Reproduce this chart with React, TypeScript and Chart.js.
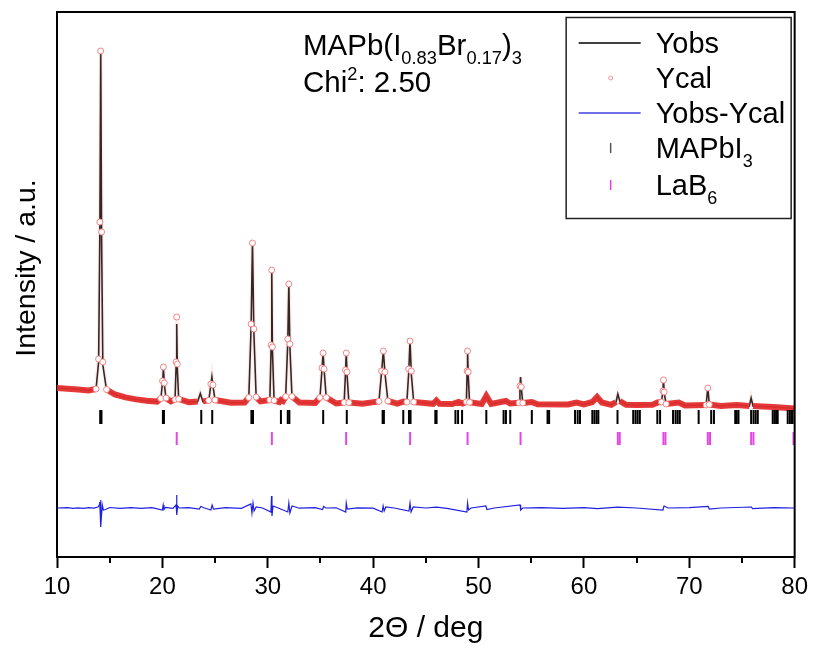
import { useEffect, useRef } from "react";
import { Chart, registerables } from "chart.js";

Chart.register(...registerables);

// ---------- data (2θ in degrees, intensity in arbitrary counts) ----------
const twoTheta = [
  10.0, 11.0, 12.0, 13.0, 13.7, 13.95, 14.07, 14.15, 14.23, 14.35, 14.7, 15.5, 16.5, 17.5, 18.5, 19.5,
  19.85, 20.02, 20.1, 20.18, 20.35, 20.8, 21.2, 21.3, 21.36, 21.42, 21.55, 22.5, 23.35, 23.6, 23.85,
  24.4, 24.6, 24.7, 24.8, 25.0, 26.5, 27.8, 28.2, 28.42, 28.55, 28.68, 28.9, 29.3, 30.2, 30.32, 30.38,
  30.44, 30.6, 31.1, 31.25, 31.45, 31.7, 31.9, 32.0, 32.1, 32.3, 33.0, 34.5, 34.95, 35.15, 35.25, 35.35,
  35.55, 36.5, 37.25, 37.38, 37.45, 37.52, 37.7, 39.0, 40.55, 40.8, 40.97, 41.12, 41.4, 42.3, 42.9, 43.2,
  43.38, 43.5, 43.62, 43.85, 45.7, 46.0, 46.3, 47.5, 48.1, 48.5, 48.85, 48.92, 48.96, 49.02, 49.15, 50.3,
  50.74, 51.2, 52.6, 53.0, 53.85, 53.93, 53.99, 54.06, 54.2, 55.06, 55.6, 58.5, 59.3, 60.0, 60.8, 61.25,
  61.7, 62.6, 63.05, 63.22, 63.4, 64.0, 65.0, 66.5, 67.0, 67.35, 67.5, 67.55, 67.62, 67.8, 69.0, 69.6,
  71.6, 71.76, 71.9, 73.0, 74.5, 75.7, 75.87, 76.05, 78.0, 80.0,
];

const yObs = [
  10900, 10850, 10750, 10650, 10750, 13500, 27000, 44700, 26000, 13200, 10700, 10250, 9950, 9750, 9620, 9530,
  9800, 11500, 12900, 11300, 9850, 9550, 9700, 13000, 17300, 12800, 9750, 9480, 9550, 10350, 9550,
  9650, 11200, 12000, 11100, 9700, 9420, 9450, 9900, 17000, 25500, 16500, 9950, 9550, 9700, 15000, 22800,
  14800, 9650, 9500, 9700, 9600, 10000, 15500, 21400, 15000, 10000, 9450, 9400, 9900, 12800, 14400, 12700,
  9900, 9350, 9450, 12500, 14500, 12300, 9450, 9320, 9550, 12500, 14600, 12400, 9600, 9330, 9550, 9500,
  12500, 15700, 12300, 9500, 9320, 9650, 9320, 9300, 9500, 9350, 9500, 12500, 14700, 12300, 9450, 9300,
  10100, 9300, 9600, 9350, 9400, 11000, 12000, 10900, 9380, 9500, 9270, 9250, 9450, 9250, 9500, 10000,
  9450, 9220, 9500, 10300, 9600, 9220, 9200, 9220, 9450, 9500, 10500, 11800, 10400, 9300, 9450, 9150,
  9200, 11000, 9250, 9100, 9200, 9100, 9900, 9100, 9000, 8850,
];

const yCal = [
  10900, 10830, 10760, 10660, 10800, 13800, 27500, 44600, 26500, 13500, 10750, 10250, 9960, 9760, 9620, 9540,
  9850, 11600, 13000, 11400, 9900, 9560, 9750, 13500, 18000, 13300, 9800, 9480, 9560, 10400, 9560,
  9660, 11300, 12100, 11200, 9700, 9420, 9450, 9950, 17300, 25400, 16800, 10000, 9560, 9700, 15200, 22700,
  15000, 9650, 9500, 9700, 9600, 10050, 15800, 21300, 15300, 10050, 9450, 9400, 9950, 12900, 14400, 12800,
  9950, 9350, 9450, 12700, 14400, 12500, 9450, 9320, 9560, 12600, 14600, 12500, 9600, 9330, 9550, 9500,
  12800, 15600, 12600, 9500, 9320, 9650, 9320, 9300, 9500, 9350, 9520, 12600, 14600, 12500, 9470, 9300,
  10100, 9300, 9600, 9350, 9420, 11100, 12000, 11000, 9400, 9500, 9270, 9250, 9450, 9250, 9500, 10000,
  9450, 9220, 9500, 10350, 9600, 9220, 9200, 9220, 9450, 9500, 10600, 11700, 10500, 9300, 9450, 9150,
  9200, 10900, 9250, 9100, 9200, 9100, 9900, 9100, 9000, 8850,
];

const diffTheta = [
  10.0, 11.0, 11.5, 12.0, 12.5, 13.0, 13.5, 13.9, 14.0, 14.05, 14.1, 14.13, 14.17, 14.22, 14.3, 14.4, 14.6,
  15.0, 16.0, 17.0, 18.0, 19.0, 20.0, 20.08, 20.15, 20.3, 21.0, 21.3, 21.35, 21.38, 21.45, 21.6, 22.5,
  23.5, 23.65, 24.0, 24.6, 24.72, 24.85, 26.0, 27.5, 28.4, 28.5, 28.6, 28.7, 28.9, 29.5, 30.3, 30.36,
  30.4, 30.5, 31.0, 31.9, 32.0, 32.1, 32.3, 33.0, 34.5, 35.2, 35.3, 35.5, 36.5, 37.4, 37.45, 37.55, 38.5,
  40.0, 40.85, 40.95, 41.05, 41.2, 42.0, 43.4, 43.5, 43.6, 43.8, 45.0, 46.0, 47.0, 48.9, 48.96, 49.05,
  49.3, 50.7, 50.8, 51.5, 53.95, 54.0, 54.2, 56.0, 58.0, 60.0, 61.3, 63.2, 65.0, 67.5, 67.6, 68.0, 70.0,
  71.8, 71.9, 73.0, 75.9, 76.0, 78.0, 80.0,
];

const diffValues = [
  0, 30, -40, 20, -30, 40, -20, 100, 300, 600, -500, 800, -1900, -800, 300, -200, -150,
  50, -30, 40, -30, 30, -200, 300, -150, 50, -40, 300, 1300, -700, 200, 0, 40,
  -100, 150, 0, -200, 300, -100, 30, -30, 400, -500, 500, -300, 100, 0, -400, 1200,
  -800, 200, 0, -400, 500, -500, 200, -20, 30, -150, 150, 0, 20, -400, 500, -100, 20,
  -20, -400, 200, -300, 100, 0, -300, 500, -400, 100, 0, 80, -30, -400, 500, -200,
  0, 200, -150, 0, 300, -200, 0, 30, -30, 40, -60, 80, 0, -200, 200, 0, 30,
  150, -100, 0, 100, -60, 30, 0,
];
const DIFF_OFFSET = -1100;

const mapbi3Positions = [
  14.1, 14.22, 20.05, 20.15, 23.69, 24.73, 28.45, 28.6, 31.25, 31.9, 32.05, 35.26, 37.5, 40.9, 41.02,
  42.86, 43.4, 43.55, 45.9, 46.02, 47.81, 48.06, 48.44, 50.74, 52.38, 52.6, 53.01, 55.06, 56.55, 56.7,
  59.16, 59.41, 59.63, 60.8, 61.0, 61.2, 61.37, 63.19, 64.68, 64.9, 65.1, 65.31, 66.97, 67.23, 68.46,
  68.7, 68.9, 69.1, 70.89, 72.08, 72.34, 74.36, 74.5, 74.67, 75.87, 76.1, 76.3, 76.5, 77.92, 78.1,
  78.25, 78.39, 79.34, 79.55, 79.75, 79.97,
];
const lab6Positions = [
  21.36, 30.39, 37.44, 43.51, 48.96, 53.99, 63.22, 63.4, 67.55, 67.74, 71.76, 71.97, 75.87, 76.09, 79.89,
];
const MAPBI3_ROW = 8000;
const LAB6_ROW = 5850;

const X_MIN = 10;
const X_MAX = 80;
const Y_MIN = -6000;
const Y_MAX = 48500;
const xMajorStep = 10;
const xMinorTicks = [15, 25, 35, 45, 55, 65, 75];

const seriesLabels = ["Yobs", "Ycal", "Yobs-Ycal", "MAPbI3", "LaB6"];

// ---------- helpers ----------
const FONT = '"Liberation Sans", Arial, Helvetica, sans-serif';
type Part = [string, number]; // 0 normal, 1 subscript, 2 superscript

function drawRich(ctx: CanvasRenderingContext2D, parts: Part[], x: number, base: number, size: number) {
  let cx = x;
  ctx.textAlign = "left";
  ctx.textBaseline = "alphabetic";
  for (const [t, k] of parts) {
    const s = k === 0 ? size : size * 0.62;
    const dy = k === 1 ? size * 0.3 : k === 2 ? -size * 0.4 : 0;
    ctx.font = `${s}px ${FONT}`;
    ctx.fillText(t, cx, base + dy);
    cx += ctx.measureText(t).width;
  }
}

const decorPlugin = {
  id: "decor",
  afterDraw(chart: any) {
    const { ctx, chartArea: a, scales } = chart;
    const xs = scales.x;
    ctx.save();
    ctx.fillStyle = "#000";
    ctx.strokeStyle = "#000";
    // frame top and right
    ctx.lineWidth = 2;
    ctx.beginPath();
    ctx.moveTo(a.left - 1, a.top);
    ctx.lineTo(a.right, a.top);
    ctx.lineTo(a.right, a.bottom + 1);
    ctx.stroke();
    // minor ticks
    ctx.lineWidth = 2;
    for (const v of xMinorTicks) {
      const px = Math.round(xs.getPixelForValue(v));
      ctx.beginPath();
      ctx.moveTo(px, a.bottom);
      ctx.lineTo(px, a.bottom + 6);
      ctx.stroke();
    }
    // axis titles
    ctx.font = `30px ${FONT}`;
    ctx.textAlign = "center";
    ctx.textBaseline = "middle";
    ctx.fillText("2\u0398 / deg", (a.left + a.right) / 2, a.bottom + 72);
    ctx.font = `28.5px ${FONT}`;
    ctx.save();
    ctx.translate(a.left - 30, a.top + 256);
    ctx.rotate(-Math.PI / 2);
    ctx.fillText("Intensity / a.u.", 0, 0);
    ctx.restore();

    // annotation
    drawRich(ctx, [["MAPb(I", 0], ["0.83", 1], ["Br", 0], ["0.17", 1], [")", 0], ["3", 1]], a.left + 246, a.top + 43, 29.5);
    drawRich(ctx, [["Chi", 0], ["2", 2], [": 2.50", 0]], a.left + 246, a.top + 80, 29.5);

    // legend
    const lx = a.right - 229;
    const ly = a.top + 5;
    const lw = 225;
    const lh = 201;
    ctx.lineWidth = 1.5;
    ctx.strokeStyle = "#222";
    ctx.strokeRect(lx + 0.5, ly + 0.5, lw, lh);
    const rows = [26, 61, 96, 131, 168];
    const sx = lx + 45;
    const tx = lx + 90;
    // Yobs
    ctx.strokeStyle = "#000";
    ctx.lineWidth = 1.5;
    ctx.beginPath();
    ctx.moveTo(lx + 13, ly + rows[0]);
    ctx.lineTo(lx + 75, ly + rows[0]);
    ctx.stroke();
    // Ycal
    ctx.strokeStyle = "rgba(240,140,140,0.9)";
    ctx.lineWidth = 1;
    ctx.beginPath();
    ctx.arc(sx, ly + rows[1], 2, 0, Math.PI * 2);
    ctx.stroke();
    // Yobs-Ycal
    ctx.strokeStyle = "#4040e0";
    ctx.lineWidth = 1.5;
    ctx.beginPath();
    ctx.moveTo(lx + 13, ly + rows[2]);
    ctx.lineTo(lx + 75, ly + rows[2]);
    ctx.stroke();
    // MAPbI3 tick
    ctx.strokeStyle = "#555";
    ctx.beginPath();
    ctx.moveTo(sx, ly + rows[3] - 5);
    ctx.lineTo(sx, ly + rows[3] + 5);
    ctx.stroke();
    // LaB6 tick
    ctx.strokeStyle = "#e040e0";
    ctx.beginPath();
    ctx.moveTo(sx, ly + rows[4] - 5);
    ctx.lineTo(sx, ly + rows[4] + 5);
    ctx.stroke();

    ctx.fillStyle = "#000";
    const fs = 29;
    const off = fs * 0.36;
    drawRich(ctx, [[seriesLabels[0], 0]], tx, ly + rows[0] + off, fs);
    drawRich(ctx, [[seriesLabels[1], 0]], tx, ly + rows[1] + off, fs);
    drawRich(ctx, [[seriesLabels[2], 0]], tx, ly + rows[2] + off, fs);
    drawRich(ctx, [["MAPbI", 0], ["3", 1]], tx, ly + rows[3] + off, fs);
    drawRich(ctx, [["LaB", 0], ["6", 1]], tx, ly + rows[4] + off, fs);
    ctx.restore();
  },
};

function isPeakPoint(i: number) {
  const prev = i > 0 ? Math.abs(yCal[i] - yCal[i - 1]) : 0;
  const next = i < yCal.length - 1 ? Math.abs(yCal[i + 1] - yCal[i]) : 0;
  return Math.max(prev, next) > 1000;
}

function isSteep(ctx: any) {
  const dx = Math.abs(ctx.p1.x - ctx.p0.x);
  const dy = Math.abs(ctx.p1.y - ctx.p0.y);
  return dy > 1.3 * dx + 2;
}

export default function App() {
  const ref = useRef<HTMLCanvasElement | null>(null);

  useEffect(() => {
    if (!ref.current) return;
    const obs = twoTheta.map((x, i) => ({ x, y: yObs[i] }));
    const cal = twoTheta.map((x, i) => ({ x, y: yCal[i] }));
    const diff = diffTheta.map((x, i) => ({ x, y: diffValues[i] + DIFF_OFFSET }));
    const t1 = mapbi3Positions.map((x) => ({ x, y: MAPBI3_ROW }));
    const t2 = lab6Positions.map((x) => ({ x, y: LAB6_ROW }));

    const chart = new Chart(ref.current, {
      type: "scatter",
      data: {
        datasets: [
          {
            label: seriesLabels[0],
            data: obs,
            showLine: true,
            borderColor: "#000",
            borderWidth: 1.6,
            pointRadius: 0,
            order: 4,
          },
          {
            label: seriesLabels[1],
            data: cal,
            showLine: true,
            borderColor: "rgba(228,45,45,0.95)",
            borderWidth: 6,
            segment: {
              borderColor: (c: any) => (isSteep(c) ? "rgba(245,170,170,0.22)" : "rgba(228,45,45,0.95)"),
              borderWidth: (c: any) => (isSteep(c) ? 4 : 6),
            },
            pointRadius: (c: any) => (isPeakPoint(c.dataIndex) ? 3 : 0),
            pointBackgroundColor: "#fff",
            pointBorderColor: "rgba(240,130,130,0.95)",
            pointBorderWidth: 1,
            order: 3,
          },
          {
            label: seriesLabels[2],
            data: diff,
            showLine: true,
            borderColor: "#2020e0",
            borderWidth: 1.2,
            pointRadius: 0,
            order: 0,
          },
          {
            label: seriesLabels[3],
            data: t1,
            showLine: false,
            pointStyle: "line",
            rotation: 90,
            pointRadius: 7,
            borderColor: "#000",
            backgroundColor: "#000",
            pointBorderWidth: 2,
            order: 1,
          },
          {
            label: seriesLabels[4],
            data: t2,
            showLine: false,
            pointStyle: "line",
            rotation: 90,
            pointRadius: 6.5,
            borderColor: "#e645e6",
            backgroundColor: "#e645e6",
            pointBorderWidth: 2,
            order: 1,
          },
        ],
      },
      options: {
        responsive: false,
        animation: false,
        devicePixelRatio: 1,
        layout: { padding: { top: 12, right: 16, left: 0, bottom: 0 }, autoPadding: false },
        plugins: { legend: { display: false }, tooltip: { enabled: false } },
        events: [],
        scales: {
          x: {
            type: "linear",
            min: X_MIN,
            max: X_MAX,
            afterFit: (s: any) => {
              s.height = 95;
            },
            ticks: {
              stepSize: xMajorStep,
              color: "#000",
              font: { size: 24, family: FONT },
              padding: 5,
              maxRotation: 0,
            },
            grid: {
              display: true,
              drawOnChartArea: false,
              drawTicks: true,
              tickLength: 11,
              tickWidth: 2,
              tickColor: "#000",
            },
            border: { display: true, color: "#000", width: 2 },
          },
          y: {
            type: "linear",
            min: Y_MIN,
            max: Y_MAX,
            afterFit: (s: any) => {
              s.width = 57;
            },
            ticks: { display: false },
            grid: { display: false },
            border: { display: true, color: "#000", width: 2 },
          },
        },
      },
      plugins: [decorPlugin],
    });
    return () => chart.destroy();
  }, []);

  return (
    <div style={{ position: "fixed", left: 0, top: 0, width: 813, height: 652, background: "#fff" }}>
      <canvas ref={ref} width={813} height={652} style={{ width: 813, height: 652, display: "block" }} />
    </div>
  );
}
